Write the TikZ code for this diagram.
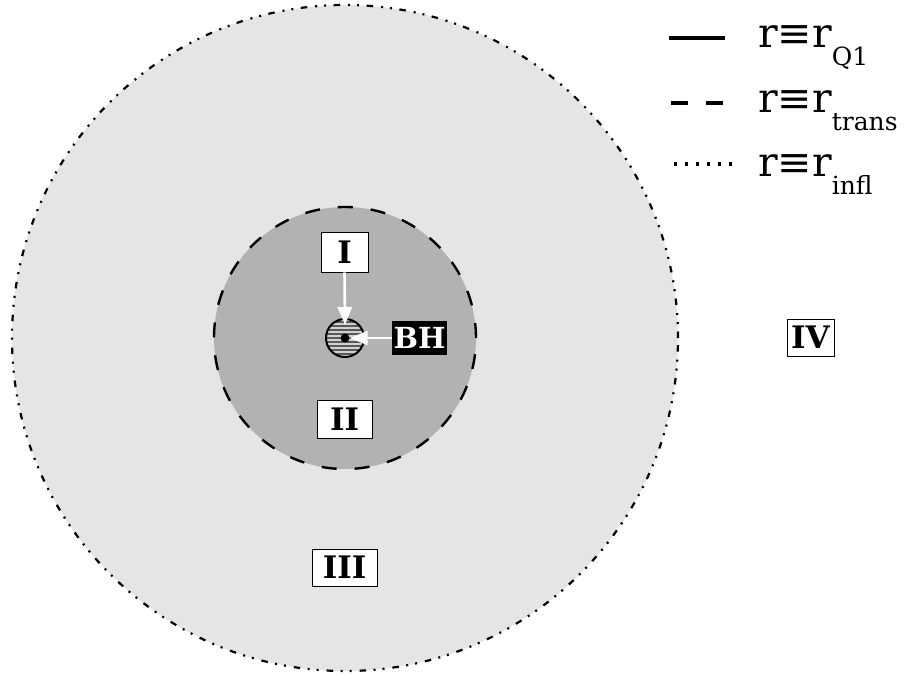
\documentclass[tikz,border=0pt]{standalone}
\usepackage{fontspec}
\setmainfont{DejaVu Serif}
\usetikzlibrary{arrows.meta}

\definecolor{farzone}{gray}{0.9}
\definecolor{nearzone}{gray}{0.7}

\tikzset{
  zonelabel/.style={draw=black, line width=0.8pt, fill=white, inner sep=0pt,
    minimum height=38pt, font=\fontsize{31}{31}\selectfont\bfseries},
  bhlabel/.style={fill=black, text=white, inner sep=0pt, minimum width=55pt,
    minimum height=34pt, font=\fontsize{29}{29}\selectfont\bfseries},
  pointer/.style={draw=white, line width=2.6pt,
    -{Triangle[width=14pt,length=18pt,fill=white]}},
  legendtext/.style={anchor=base west, inner sep=0pt, font=\fontsize{41}{41}\selectfont},
  infl/.style={line width=2.2pt,
    dash pattern=on 6.5pt off 7.5pt on 2pt off 7pt on 2pt off 8pt},
  trans/.style={line width=2.4pt, dash pattern=on 15pt off 18pt},
}

\newcommand{\legsub}[1]{\raisebox{-18pt}{\fontsize{25}{25}\selectfont #1}}

\begin{document}
\begin{tikzpicture}[x=1pt,y=-1pt]
  \useasboundingbox (0,0) rectangle (904,675);
  \fill[white] (0,0) rectangle (904,675);

  % zones around the black hole
  \coordinate (c) at (345,338);
  \fill[farzone] (c) circle[radius=333pt];
  \draw[infl] (c) circle[radius=333pt];
  \fill[nearzone] (c) circle[radius=131pt];
  \draw[trans] (c) circle[radius=131pt];

  % hatched core with the black hole at its centre
  \fill[white!82!black] (c) circle[radius=19pt];
  \begin{scope}
    \clip (c) circle[radius=19pt];
    \foreach \k in {-5,...,5}
      \draw[black!65, line width=1.7pt] (326,338+4*\k) -- (364,338+4*\k);
  \end{scope}
  \draw[line width=2pt] (c) circle[radius=19pt];
  \node[circle, fill=black, inner sep=0pt, minimum size=9pt] (dot) at (c) {};
  \coordinate (coretop) at (345,325);

  % region labels
  \node[zonelabel, minimum width=47pt, minimum height=40pt] (r1) at (344.5,252) {I};
  \node[zonelabel, minimum width=55pt] (r2) at (344.5,419) {II};
  \node[zonelabel, minimum width=65pt, minimum height=37pt] (r3) at (344.5,567.5) {III};
  \node[zonelabel, minimum width=47pt, minimum height=37pt] (r4) at (810.5,337.5) {IV};
  \node[bhlabel] (bh) at (419.5,338) {BH};

  \draw[pointer] (r1.south) -- (coretop);
  \draw[pointer] (bh.west) -- (dot.east);

  % legend
  \coordinate (l1a) at (669,38);  \coordinate (l1b) at (725,38);
  \coordinate (l2a) at (670.5,103); \coordinate (l2b) at (724,103);
  \coordinate (l3a) at (674,164); \coordinate (l3b) at (733,164);
  \draw[line width=3.3pt] (l1a) -- (l1b);
  \draw[line width=3.3pt, dash pattern=on 17.5pt off 17.5pt] (l2a) -- (l2b);
  \draw[line width=3.2pt, dash pattern=on 3.3pt off 7.6pt] (l3a) -- (l3b);

  \node[legendtext] (t1) at (758,47)  {r≡r\legsub{Q1}};
  \node[legendtext] (t2) at (758,112) {r≡r\legsub{trans}};
  \node[legendtext] (t3) at (758,176) {r≡r\legsub{infl}};
\end{tikzpicture}
\end{document}
